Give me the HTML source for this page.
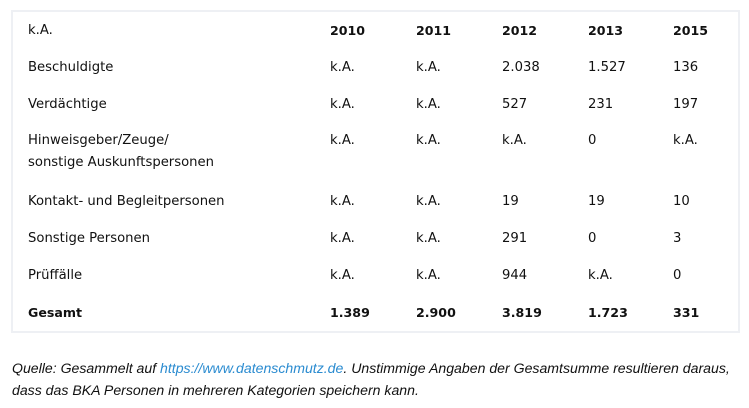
<!DOCTYPE html>
<html><head><style>
body{margin:0;width:749px;height:408px;background:#fff;font-family:"DejaVu Sans",sans-serif;font-size:13.2px;color:#111;position:relative;overflow:hidden}
.box{position:absolute;left:11px;top:10px;width:725px;height:319px;border:2px solid #eef0f4}
.t{position:absolute;white-space:nowrap;line-height:16px;margin-top:1px}
.b{font-weight:bold;font-size:12.6px}
.c{position:absolute;left:12px;font-family:"Liberation Sans",sans-serif;font-style:italic;font-size:14.1px;white-space:nowrap;line-height:16px}
a{color:#2a8bd0;text-decoration:none}
</style></head><body>
<div class="box"></div>
<div class="t" style="left:28px;top:22px">k.A.</div>
<div class="t b" style="left:330px;top:22px">2010</div><div class="t b" style="left:416px;top:22px">2011</div><div class="t b" style="left:502px;top:22px">2012</div><div class="t b" style="left:588px;top:22px">2013</div><div class="t b" style="left:673px;top:22px">2015</div>

<div class="t" style="left:28px;top:59px">Beschuldigte</div>
<div class="t" style="left:330px;top:59px">k.A.</div><div class="t" style="left:416px;top:59px">k.A.</div><div class="t" style="left:502px;top:59px">2.038</div><div class="t" style="left:588px;top:59px">1.527</div><div class="t" style="left:673px;top:59px">136</div>

<div class="t" style="left:28px;top:96px">Verdächtige</div>
<div class="t" style="left:330px;top:96px">k.A.</div><div class="t" style="left:416px;top:96px">k.A.</div><div class="t" style="left:502px;top:96px">527</div><div class="t" style="left:588px;top:96px">231</div><div class="t" style="left:673px;top:96px">197</div>

<div class="t" style="left:28px;top:132px">Hinweisgeber/Zeuge/</div>
<div class="t" style="left:28px;top:154px">sonstige Auskunftspersonen</div>
<div class="t" style="left:330px;top:132px">k.A.</div><div class="t" style="left:416px;top:132px">k.A.</div><div class="t" style="left:502px;top:132px">k.A.</div><div class="t" style="left:588px;top:132px">0</div><div class="t" style="left:673px;top:132px">k.A.</div>

<div class="t" style="left:28px;top:193px">Kontakt- und Begleitpersonen</div>
<div class="t" style="left:330px;top:193px">k.A.</div><div class="t" style="left:416px;top:193px">k.A.</div><div class="t" style="left:502px;top:193px">19</div><div class="t" style="left:588px;top:193px">19</div><div class="t" style="left:673px;top:193px">10</div>

<div class="t" style="left:28px;top:230px">Sonstige Personen</div>
<div class="t" style="left:330px;top:230px">k.A.</div><div class="t" style="left:416px;top:230px">k.A.</div><div class="t" style="left:502px;top:230px">291</div><div class="t" style="left:588px;top:230px">0</div><div class="t" style="left:673px;top:230px">3</div>

<div class="t" style="left:28px;top:267px">Prüffälle</div>
<div class="t" style="left:330px;top:267px">k.A.</div><div class="t" style="left:416px;top:267px">k.A.</div><div class="t" style="left:502px;top:267px">944</div><div class="t" style="left:588px;top:267px">k.A.</div><div class="t" style="left:673px;top:267px">0</div>

<div class="t b" style="left:28px;top:304px">Gesamt</div>
<div class="t b" style="left:330px;top:304px">1.389</div><div class="t b" style="left:416px;top:304px">2.900</div><div class="t b" style="left:502px;top:304px">3.819</div><div class="t b" style="left:588px;top:304px">1.723</div><div class="t b" style="left:673px;top:304px">331</div>

<div class="c" style="top:360px">Quelle: Gesammelt auf <a>https://www.datenschmutz.de</a>. Unstimmige Angaben der Gesamtsumme resultieren daraus,</div>
<div class="c" style="top:382px">dass das BKA Personen in mehreren Kategorien speichern kann.</div>
</body></html>
